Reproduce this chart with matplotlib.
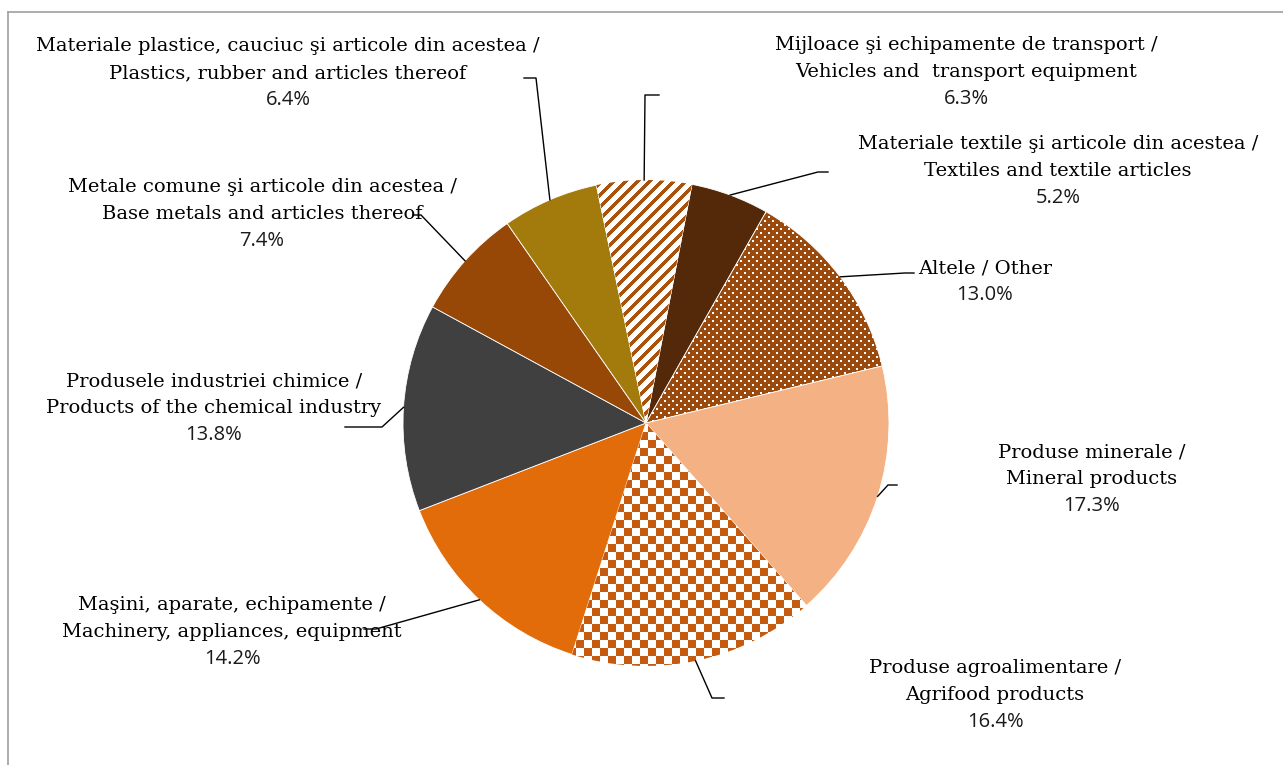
import numpy as np
import matplotlib
matplotlib.use('Agg')
import matplotlib.pyplot as plt

W, H = 1283, 765

# slices, clockwise from the top
names = ['Materiale textile şi articole din acestea /\nTextiles and textile articles',
         'Altele / Other',
         'Produse minerale /\nMineral products',
         'Produse agroalimentare /\nAgrifood products',
         'Maşini, aparate, echipamente /\nMachinery, appliances, equipment',
         'Produsele industriei chimice /\nProducts of the chemical industry',
         'Metale comune şi articole din acestea /\nBase metals and articles thereof',
         'Materiale plastice, cauciuc şi articole din acestea /\nPlastics, rubber and articles thereof',
         'Mijloace şi echipamente de transport /\nVehicles and  transport equipment']
shares = [5.2, 13.0, 17.3, 16.4, 14.2, 13.8, 7.4, 6.4, 6.3]

base_colors = ['#53290A', '#994A0C', '#F4B183', '#FFFFFF', '#E36C0A',
               '#404040', '#974706', '#A27B0C', '#FFFFFF']
# fill patterns drawn on top of some slices
patterns = [None, 'dots', None, 'checker', None, None, None, None, 'stripes']
pattern_colors = [None, '#FFFFFF', None, '#C55A11', None, None, None, None, '#A8520E']

# label layout (pixel positions from top-left): text centre x, first line y
label_pos = [(1058, 144), (985, 268), (1092, 452), (995, 668), (232, 605),
             (214, 381), (262, 187), (288, 46), (966, 45)]
elbows = [(818, 172), (905, 273), (888, 485), (712, 698), (376, 629),
          (382, 427), (421, 215), (536, 78), (645, 95)]
ends = [(828, 172), (914, 273), (897, 485), (724, 698), (364, 629),
        (345, 427), (413, 215), (524, 78), (659, 95)]

cx, cy, R = 646, 423, 243

fig = plt.figure(figsize=(W / 100, H / 100), dpi=100)
ax = fig.add_axes([0, 0, 1, 1])

wedges, _ = ax.pie(shares, colors=base_colors, startangle=79.1, counterclock=False,
                   center=(cx, H - cy), radius=R,
                   wedgeprops=dict(linewidth=0.6, edgecolor='white'))

# pattern images clipped to the wedges
cols, rows = np.meshgrid(np.arange(W), np.arange(H))
for w, pat, pc in zip(wedges, patterns, pattern_colors):
    if pat is None:
        continue
    if pat == 'checker':
        mask = ((cols // 8 + rows // 8) % 2) == 0
    elif pat == 'stripes':
        mask = ((cols + rows) % 12) < 5
    else:
        mask = (((cols % 8) < 2) & ((rows % 8) < 2)) | \
               ((((cols + 4) % 8) < 2) & (((rows + 4) % 8) < 2))
    rgb = matplotlib.colors.to_rgb(pc)
    img = np.zeros((H, W, 4))
    img[..., :3] = rgb
    img[..., 3] = mask.astype(float)
    im = ax.imshow(img, extent=(0, W, 0, H), origin='upper',
                   interpolation='nearest', zorder=w.get_zorder() + 0.1)
    im.set_clip_path(w)

ax.set_xlim(0, W)
ax.set_ylim(0, H)
ax.set_aspect('auto')
ax.axis('off')

# leader lines and labels
for w, name, val, (tx, ty), el, en in zip(wedges, names, shares, label_pos, elbows, ends):
    mid = np.deg2rad((w.theta1 + w.theta2) / 2)
    px, py = cx + R * np.cos(mid), (H - cy) + R * np.sin(mid)
    ax.plot([px, el[0], en[0]], [py, H - el[1], H - en[1]], color='black', lw=1.0,
            zorder=5)
    lines = name.split('\n')
    for i, line in enumerate(lines):
        ax.text(tx, H - (ty + 27 * i), line, ha='center', va='center', fontsize=14,
                family='DejaVu Serif', color='black', zorder=6)
    ax.text(tx, H - (ty + 27 * len(lines)), f'{val:.1f}%', ha='center', va='center',
            fontsize=14.5, family='Open Sans', color='#1a1a1a', zorder=6)

# chart area border
fig.add_artist(plt.Line2D([8 / W, 1], [1 - 12 / H, 1 - 12 / H],
                          transform=fig.transFigure, color='#A6A6A6', lw=1.3))
fig.add_artist(plt.Line2D([8 / W, 8 / W], [0, 1 - 12 / H],
                          transform=fig.transFigure, color='#A6A6A6', lw=1.3))

fig.savefig('out.png', dpi=100)
